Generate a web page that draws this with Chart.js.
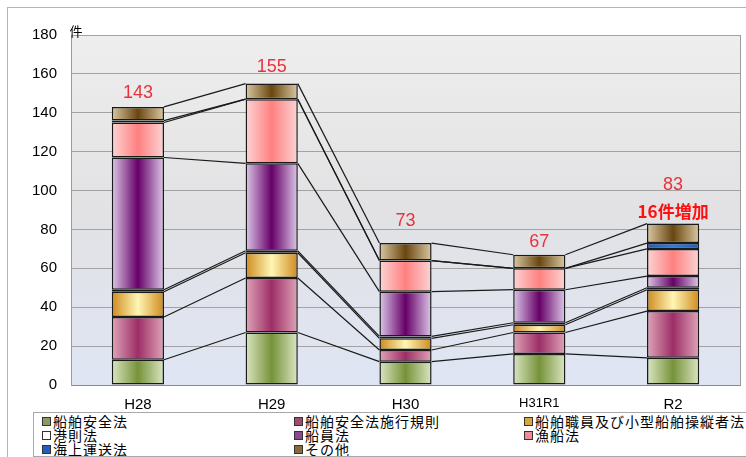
<!DOCTYPE html>
<html>
<head>
<meta charset="utf-8">
<script src="https://cdn.jsdelivr.net/npm/chart.js@4/dist/chart.umd.min.js"></script>
<style>
    html, body { margin: 0; padding: 0; overflow: hidden; background: #fff; }
    #wrap { position: relative; width: 746px; height: 457px; }
    #frame { position: absolute; left: 7px; top: 7px; width: 760px; height: 470px; border: 1px solid #b4b4b4; }
    #chart { position: absolute; left: 0; top: 0; }
    #legend {
        position: absolute; left: 33px; top: 412px; width: 760px; height: 43px;
        border: 1px solid #a8a8a8; background: #fff; overflow: hidden;
        font-family: 'Noto Sans CJK JP', sans-serif; font-size: 14px; letter-spacing: 1px;
        line-height: 14px; color: #000;
    }
    .item { position: absolute; white-space: nowrap; }
    .box { display: inline-block; width: 7px; height: 7px; border: 1px solid #333; margin-right: 2px; vertical-align: 1px; }
</style>
</head>
<body>
<div id="wrap">
    <div id="frame"></div>
    <canvas id="chart" width="746" height="457"></canvas>
    <div id="legend"></div>
</div>
<script>
// 年度
const categories = ['H28', 'H29', 'H30', 'H31R1', 'R2'];

// 法令別件数 (stack order bottom -> top)
const shipSafety       = [13, 27, 12, 16, 14]; // 船舶安全法
const shipSafetyRules  = [22, 28,  6, 11, 24]; // 船舶安全法施行規則
const crewLicensing    = [13, 13,  6,  4, 11]; // 船舶職員及び小型船舶操縦者法
const portRegulations  = [ 1,  1,  1,  1,  1]; // 港則法
const seafarers        = [68, 45, 23, 17,  6]; // 船員法
const fishingVessels   = [18, 33, 16, 11, 14]; // 漁船法
const maritimeTransport= [ 1,  0,  0,  0,  3]; // 海上運送法
const others           = [ 7,  8,  9,  7, 10]; // その他

const seriesNames = ['船舶安全法', '船舶安全法施行規則', '船舶職員及び小型船舶操縦者法',
    '港則法', '船員法', '漁船法', '海上運送法', 'その他'];
const seriesValues = [shipSafety, shipSafetyRules, crewLicensing, portRegulations,
    seafarers, fishingVessels, maritimeTransport, others];

const yTicks = [0, 20, 40, 60, 80, 100, 120, 140, 160, 180];
const unitLabel = '件';
const noteText = '16件増加';
const noteIndex = 4;

// gradient stops: edge, center (港則法 is so thin it reads as a black band)
const fills = [
    ['#dbe6c2', '#76923a'],
    ['#e0a4b8', '#9c2e66'],
    ['#cf8a1e', '#fff6b4'],
    ['#111111', '#111111'],
    ['#ddc8e8', '#660068'],
    ['#fcd4d4', '#ff8080'],
    ['#1c5cb8', '#2f7ee0'],
    ['#dac9a2', '#6a4610'],
];
const swatch = ['#8a9a60', '#a04a72', '#d8a840', '#ffffff', '#884a92', '#f08a98', '#1f5fc0', '#8a6a38'];
const labelOffsets = [14, 17, 22, 13, 39];

const plotBg = {
    id: 'plotBg',
    beforeDraw(chart) {
        const { ctx, chartArea: a } = chart;
        const g = ctx.createLinearGradient(0, a.top, 0, a.bottom);
        g.addColorStop(0, '#eeeeee');
        g.addColorStop(0.5, '#e2e2e4');
        g.addColorStop(1, '#dfe5f4');
        ctx.save();
        ctx.fillStyle = g;
        ctx.fillRect(a.left, a.top, a.right - a.left, a.bottom - a.top);
        ctx.restore();
    },
    afterDraw(chart) {
        const { ctx, chartArea: a } = chart;
        ctx.save();
        ctx.strokeStyle = '#9a9a9a';
        ctx.lineWidth = 1;
        ctx.beginPath();
        ctx.moveTo(a.right + 0.5, a.top);
        ctx.lineTo(a.right + 0.5, a.bottom);
        ctx.stroke();
        ctx.fillStyle = '#000';
        ctx.font = "13px 'Noto Sans CJK JP'";
        ctx.textAlign = 'center';
        ctx.textBaseline = 'middle';
        ctx.fillText(unitLabel, a.left + 5, a.top - 4);
        ctx.restore();
    }
};

// one horizontal gradient per dataset, with a light-dark-light band on every bar
const barGradients = {
    id: 'barGradients',
    beforeDatasetsDraw(chart) {
        const ctx = chart.ctx;
        const W = chart.width;
        chart.data.datasets.forEach((ds, di) => {
            const [edge, mid] = fills[di];
            const g = ctx.createLinearGradient(0, 0, W, 0);
            chart.getDatasetMeta(di).data.forEach(bar => {
                g.addColorStop((bar.x - bar.width / 2) / W, edge);
                g.addColorStop(bar.x / W, mid);
                g.addColorStop((bar.x + bar.width / 2) / W, edge);
            });
            chart.getDatasetMeta(di).data.forEach(bar => { bar.options.backgroundColor = g; });
        });
    }
};

// excel-like series lines between adjacent stacks
const seriesLines = {
    id: 'seriesLines',
    afterDatasetsDraw(chart) {
        const { ctx, scales: { y } } = chart;
        const bars = chart.getDatasetMeta(0).data;
        ctx.save();
        ctx.strokeStyle = '#1a1a1a';
        ctx.lineWidth = 1.2;
        for (let i = 0; i < categories.length - 1; i++) {
            let c0 = 0, c1 = 0;
            seriesValues.forEach(vals => {
                c0 += vals[i];
                c1 += vals[i + 1];
                ctx.beginPath();
                ctx.moveTo(bars[i].x + bars[i].width / 2, y.getPixelForValue(c0));
                ctx.lineTo(bars[i + 1].x - bars[i + 1].width / 2, y.getPixelForValue(c1));
                ctx.stroke();
            });
        }
        ctx.restore();
    }
};

const totalLabels = {
    id: 'totalLabels',
    afterDatasetsDraw(chart) {
        const { ctx, scales: { x, y } } = chart;
        ctx.save();
        ctx.textAlign = 'center';
        ctx.textBaseline = 'middle';
        categories.forEach((c, i) => {
            const total = seriesValues.reduce((s, v) => s + v[i], 0);
            const px = x.getPixelForValue(i);
            const py = y.getPixelForValue(total);
            ctx.fillStyle = '#e8323c';
            ctx.font = "18px 'Liberation Sans', Arial";
            ctx.fillText(String(total), px, py - labelOffsets[i]);
            if (i === noteIndex) {
                ctx.fillStyle = '#ff1010';
                ctx.font = "bold 17px 'Noto Sans CJK JP'";
                ctx.fillText(noteText, px, py - 12);
            }
        });
        ctx.restore();
    }
};

// html legend in three fixed columns
const legendCols = [8, 260, 490];
const legendRows = [1, 15, 29];
const legendEl = document.getElementById('legend');
seriesNames.forEach((name, i) => {
    const d = document.createElement('div');
    d.className = 'item';
    d.style.left = legendCols[i % 3] + 'px';
    d.style.top = legendRows[Math.floor(i / 3)] + 'px';
    d.innerHTML = '<span class="box" style="background:' + swatch[i] + '"></span>' + name;
    legendEl.appendChild(d);
});

new Chart(document.getElementById('chart'), {
    type: 'bar',
    data: {
        labels: categories,
        datasets: seriesValues.map((vals, i) => ({
            label: seriesNames[i],
            data: vals,
            backgroundColor: swatch[i],
            borderColor: '#1a1a1a',
            borderWidth: 1.5,
            borderSkipped: false,
            categoryPercentage: 1,
            barPercentage: 0.39,
        })),
    },
    options: {
        responsive: false,
        animation: false,
        layout: { padding: { top: 35, right: 6, left: 0, bottom: 0 } },
        plugins: { legend: { display: false }, tooltip: { enabled: false } },
        scales: {
            x: {
                stacked: true,
                afterFit: s => { s.height = 72; },
                grid: { display: false },
                border: { color: '#8a8a8a' },
                ticks: {
                    color: '#000',
                    padding: 3,
                    font: ctx => ({ family: "'Liberation Sans', Arial", size: ctx.index === 3 ? 13 : 15 }),
                },
            },
            y: {
                stacked: true,
                min: 0, max: 180,
                afterFit: s => { s.width = 71; },
                afterBuildTicks: s => { s.ticks = yTicks.map(v => ({ value: v })); },
                grid: { color: '#a2a2a2', drawTicks: false },
                border: { color: '#9a9a9a' },
                ticks: { color: '#000', padding: 14, font: { family: "'Liberation Sans', Arial", size: 15 } },
            },
        },
    },
    plugins: [plotBg, barGradients, seriesLines, totalLabels],
});
</script>
</body>
</html>
